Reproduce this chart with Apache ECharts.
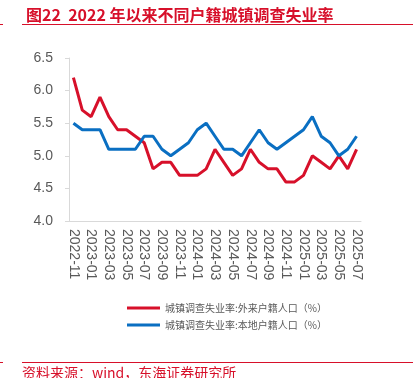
<!DOCTYPE html>
<html><head><meta charset="utf-8">
<script src="https://cdn.jsdelivr.net/npm/echarts@6/dist/echarts.min.js"></script>
<style>html,body{margin:0;padding:0;background:#fff}#c{width:413px;height:378px}</style>
</head><body><div id="c"></div>
<script>
var categories = ['2022-11','2022-12','2023-01','2023-02','2023-03','2023-04','2023-05','2023-06','2023-07','2023-08','2023-09','2023-10','2023-11','2023-12','2024-01','2024-02','2024-03','2024-04','2024-05','2024-06','2024-07','2024-08','2024-09','2024-10','2024-11','2024-12','2025-01','2025-02','2025-03','2025-04','2025-05','2025-06','2025-07'];
var migrantRate = [6.2,5.7,5.6,5.9,5.6,5.4,5.4,5.3,5.2,4.8,4.9,4.9,4.7,4.7,4.7,4.8,5.1,4.9,4.7,4.8,5.1,4.9,4.8,4.8,4.6,4.6,4.7,5.0,4.9,4.8,5.0,4.8,5.1];
var localRate = [5.5,5.4,5.4,5.4,5.1,5.1,5.1,5.1,5.3,5.3,5.1,5.0,5.1,5.2,5.4,5.5,5.3,5.1,5.1,5.0,5.2,5.4,5.2,5.1,5.2,5.3,5.4,5.6,5.3,5.2,5.0,5.1,5.3];
var seriesNames = ['城镇调查失业率:外来户籍人口（%）','城镇调查失业率:本地户籍人口（%）'];
var titleText = '图22  2022 年以来不同户籍城镇调查失业率';
var sourceText = '资料来源：wind，东海证券研究所';

var RED = '#d7102a', BLUE = '#0a6fc2', GRAY = '#595959', AXIS = '#d9d9d9';
var FONT = '"Noto Sans CJK SC", "Liberation Sans", sans-serif';
var chart = echarts.init(document.getElementById('c'), null, {renderer:'canvas'});
chart.setOption({
  animation:false,
  backgroundColor:'#fff',
  title:{text:titleText,left:21,top:2,textStyle:{color:RED,fontSize:16,fontWeight:'bold',fontFamily:FONT}},
  graphic:[
    {type:'line',shape:{x1:22,y1:24.5,x2:413,y2:24.5},style:{stroke:RED,lineWidth:1}},
    {type:'line',shape:{x1:0,y1:24.5,x2:3,y2:24.5},style:{stroke:RED,lineWidth:1}},
    {type:'line',shape:{x1:22,y1:362.5,x2:413,y2:362.5},style:{stroke:RED,lineWidth:1}},
    {type:'line',shape:{x1:0,y1:362.5,x2:3,y2:362.5},style:{stroke:RED,lineWidth:1}},
    {type:'text',left:22,top:366,style:{text:sourceText,fill:RED,font:'14px '+FONT}}
  ],
  legend:{orient:'vertical',left:127,top:303,padding:0,itemWidth:33,itemHeight:3,itemGap:7,icon:'rect',
    textStyle:{color:GRAY,fontSize:10,fontFamily:FONT},data:seriesNames},
  grid:{left:69,right:52,top:58,bottom:157,containLabel:false},
  xAxis:{type:'category',data:categories,boundaryGap:true,
    axisLine:{lineStyle:{color:AXIS}},
    axisTick:{interval:0,length:4,lineStyle:{color:AXIS}},
    axisLabel:{interval:1,rotate:-90,color:GRAY,fontSize:14,fontFamily:'"Liberation Sans", Arial, sans-serif',margin:8}},
  yAxis:{type:'value',min:4,max:6.5,interval:0.5,
    axisLine:{show:true,lineStyle:{color:AXIS}},
    axisTick:{show:true,length:4,lineStyle:{color:AXIS}},
    splitLine:{show:false},
    axisLabel:{color:GRAY,fontSize:14,fontFamily:'"Liberation Sans", Arial, sans-serif',margin:16,formatter:function(v){return v.toFixed(1);}}},
  series:[
    {name:seriesNames[0],type:'line',data:migrantRate,showSymbol:false,lineStyle:{color:RED,width:3},itemStyle:{color:RED}},
    {name:seriesNames[1],type:'line',data:localRate,showSymbol:false,lineStyle:{color:BLUE,width:3},itemStyle:{color:BLUE}}
  ]
});
</script></body></html>
